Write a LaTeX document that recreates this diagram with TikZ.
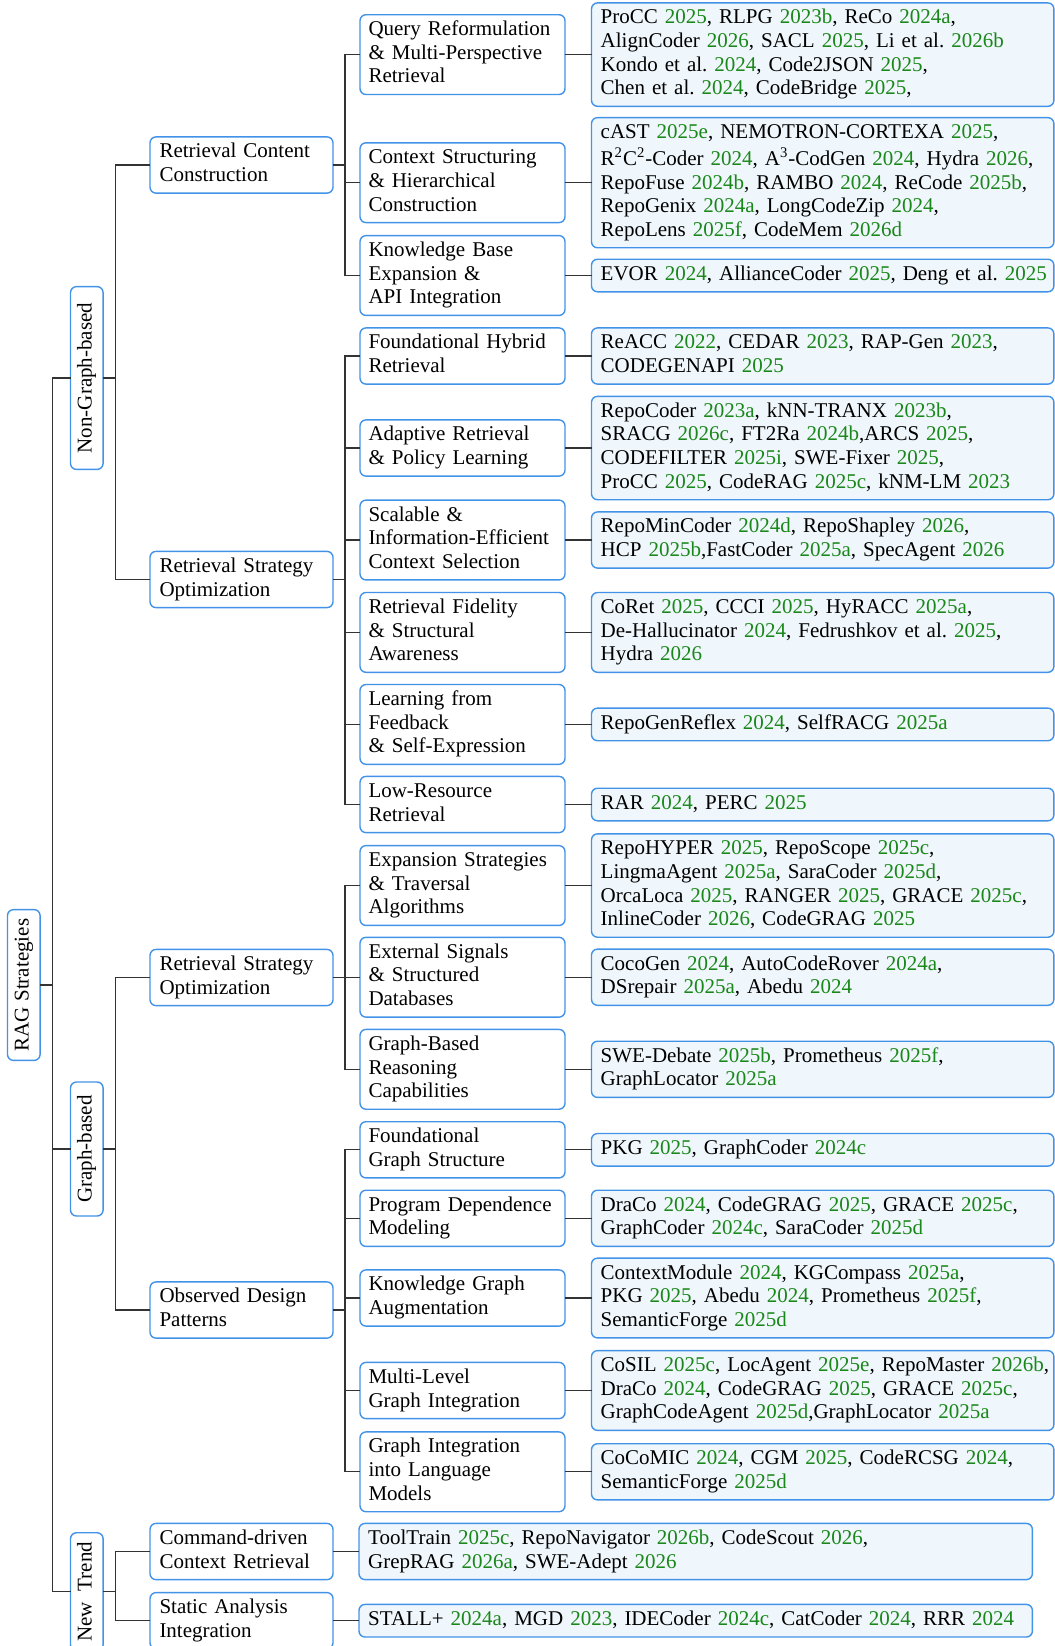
\documentclass[tikz,border=0pt]{standalone}
\usepackage{fontspec}
\setmainfont{Liberation Serif}
\usetikzlibrary{
  positioning,
}
\definecolor{boxblue}{RGB}{66,146,232}
\definecolor{boxfill}{RGB}{240,247,252}
\definecolor{yrgreen}{RGB}{25,135,25}
\newcommand{\yr}[1]{\textcolor{yrgreen}{#1}}

\begin{document}
\frenchspacing
\begin{tikzpicture}[
    x = 0.5pt,
    y = -0.5pt,
    node distance=13.25pt,
    n/.style={
      draw=boxblue, line width=0.7pt, rounded corners=3pt,
      font=\fontsize{10.5}{11.8}\selectfont, inner ysep=2.25pt,
      outer sep=0pt, execute at begin node={\strut},
      execute at end node={\strut},
    },
    v/.style={n, rotate=90, inner xsep=4.6pt},
    m/.style={n, anchor=west, text width=86pt, align=left, inner xsep=2.75pt,
      execute at begin node={\leftskip=2pt\relax}},
    s/.style={n, anchor=west, text width=97pt, align=left, inner xsep=2.75pt,
      execute at begin node={\leftskip=1.5pt\relax}},
    p/.style={n, fill=boxfill, text width=240pt, align=left, inner xsep=-4.4pt,
      execute at begin node={\leftskip=9pt\relax}},
    w/.style={p, text width=345.5pt},
    e/.style={draw=black!80, line width=0.6pt},]
  \useasboundingbox (0,0) rectangle (1055,1646);
  %% root and branches
  \node[v, minimum width=75pt](Root) at (23.8,985) {RAG Strategies};
  \node[v, minimum width=91.4pt](NonGraph) at (86.8,378) {Non-Graph-based};
  \node[v, minimum width=67pt](Graph) at (86.8,1149) {Graph-based};
  \node[v](Trend) at (86.8,1591.7) {New\enspace Trend};
  %%
  \node[m](Content) at (150,165) {Retrieval Content\\Construction};
  \node[m](Strategy) at (150,579.5) {Retrieval Strategy\\Optimization};
  \node[m](GStrategy) at (150,977.5) {Retrieval Strategy\\Optimization};
  \node[m](Design) at (150,1310) {Observed Design\\Patterns};
  \node[m](Command) at (150,1551.5) {Command-driven\\Context Retrieval};
  \node[m](Static) at (150,1620.7) {Static Analysis\\Integration};
  %% non-graph-based
  \node[s](Query) at (360,54.6)
  {Query Reformulation\\\& Multi-Perspective\\Retrieval};
  \node[s](Context) at (360,182.7)
  {Context Structuring\\\& Hierarchical\\Construction};
  \node[s](Knowledge) at (360,275.5)
  {Knowledge Base\\Expansion \&\\API Integration};
  \node[s](Hybrid) at (360,356) {Foundational Hybrid\\Retrieval};
  \node[s](Adaptive) at (360,448) {Adaptive Retrieval\\\& Policy Learning};
  \node[s](Scalable) at (360,540)
  {Scalable \&\\Information-Efficient\\Context Selection};
  \node[s](Fidelity) at (360,632.4)
  {Retrieval Fidelity\\\& Structural\\Awareness};
  \node[s](Feedback) at (360,724.4)
  {Learning from\\Feedback\\\& Self-Expression};
  \node[s](LowRes) at (360,804.5) {Low-Resource\\Retrieval};
  %% graph-based
  \node[s](Expansion) at (360,885.5)
  {Expansion Strategies\\\& Traversal\\Algorithms};
  \node[s](External) at (360,977.2)
  {External Signals\\\& Structured\\Databases};
  \node[s](Reasoning) at (360,1069.3)
  {Graph-Based\\Reasoning\\Capabilities};
  \node[s](GStructure) at (360,1149.8) {Foundational\\Graph Structure};
  \node[s](Dependence) at (360,1218.3) {Program Dependence\\Modeling};
  \node[s](KGraph) at (360,1298) {Knowledge Graph\\Augmentation};
  \node[s](MultiLevel) at (360,1390.5) {Multi-Level\\Graph Integration};
  \node[s](GIntegration) at (360,1471.8)
  {Graph Integration\\into Language\\Models};
  %% papers
  \node[p,right=of Query](QueryP)
  {ProCC \yr{2025}, RLPG \yr{2023b}, ReCo \yr{2024a},\\
    AlignCoder \yr{2026}, SACL \yr{2025}, Li et al. \yr{2026b}\\
    Kondo et al. \yr{2024}, Code2JSON \yr{2025},\\
    Chen et al. \yr{2024}, CodeBridge \yr{2025},};
  \node[p,right=of Context](ContextP)
  {cAST \yr{2025e}, NEMOTRON-CORTEXA \yr{2025},\\
    R\textsuperscript{2}C\textsuperscript{2}-Coder \yr{2024},
    A\textsuperscript{3}-CodGen \yr{2024}, Hydra \yr{2026},\\
    RepoFuse \yr{2024b}, RAMBO \yr{2024}, ReCode \yr{2025b},\\
    RepoGenix \yr{2024a}, LongCodeZip \yr{2024},\\
    RepoLens \yr{2025f}, CodeMem \yr{2026d}};
  \node[p,right=of Knowledge](KnowledgeP)
  {EVOR \yr{2024}, AllianceCoder \yr{2025}, Deng et al. \yr{2025}};
  \node[p,right=of Hybrid](HybridP)
  {ReACC \yr{2022}, CEDAR \yr{2023}, RAP-Gen \yr{2023},\\
    CODEGENAPI \yr{2025}};
  \node[p,right=of Adaptive](AdaptiveP)
  {RepoCoder \yr{2023a}, kNN-TRANX \yr{2023b},\\
    SRACG \yr{2026c}, FT2Ra \yr{2024b},ARCS \yr{2025},\\
    CODEFILTER \yr{2025i}, SWE-Fixer \yr{2025},\\
    ProCC \yr{2025}, CodeRAG \yr{2025c}, kNM-LM \yr{2023}};
  \node[p,right=of Scalable](ScalableP)
  {RepoMinCoder \yr{2024d}, RepoShapley \yr{2026},\\
    HCP \yr{2025b},FastCoder \yr{2025a}, SpecAgent \yr{2026}};
  \node[p,right=of Fidelity](FidelityP)
  {CoRet \yr{2025}, CCCI \yr{2025}, HyRACC \yr{2025a},\\
    De-Hallucinator \yr{2024}, Fedrushkov et al. \yr{2025},\\
    Hydra \yr{2026}};
  \node[p,right=of Feedback](FeedbackP)
  {RepoGenReflex \yr{2024}, SelfRACG \yr{2025a}};
  \node[p,right=of LowRes](LowResP) {RAR \yr{2024}, PERC \yr{2025}};
  \node[p,right=of Expansion](ExpansionP)
  {RepoHYPER \yr{2025}, RepoScope \yr{2025c},\\
    LingmaAgent \yr{2025a}, SaraCoder \yr{2025d},\\
    OrcaLoca \yr{2025}, RANGER \yr{2025}, GRACE \yr{2025c},\\
    InlineCoder \yr{2026}, CodeGRAG \yr{2025}};
  \node[p,right=of External](ExternalP)
  {CocoGen \yr{2024}, AutoCodeRover \yr{2024a},\\
    DSrepair \yr{2025a}, Abedu \yr{2024}};
  \node[p,right=of Reasoning](ReasoningP)
  {SWE-Debate \yr{2025b}, Prometheus \yr{2025f},\\
    GraphLocator \yr{2025a}};
  \node[p,right=of GStructure](GStructureP)
  {PKG \yr{2025}, GraphCoder \yr{2024c}};
  \node[p,right=of Dependence](DependenceP)
  {DraCo \yr{2024}, CodeGRAG \yr{2025}, GRACE \yr{2025c},\\
    GraphCoder \yr{2024c}, SaraCoder \yr{2025d}};
  \node[p,right=of KGraph](KGraphP)
  {ContextModule \yr{2024}, KGCompass \yr{2025a},\\
    PKG \yr{2025}, Abedu \yr{2024}, Prometheus \yr{2025f},\\
    SemanticForge \yr{2025d}};
  \node[p,right=of MultiLevel](MultiLevelP)
  {CoSIL \yr{2025c}, LocAgent \yr{2025e}, RepoMaster \yr{2026b},\\
    DraCo \yr{2024}, CodeGRAG \yr{2025}, GRACE \yr{2025c},\\
    GraphCodeAgent \yr{2025d},GraphLocator \yr{2025a}};
  \node[p,right=of GIntegration](GIntegrationP)
  {CoCoMIC \yr{2024}, CGM \yr{2025}, CodeRCSG \yr{2024},\\
    SemanticForge \yr{2025d}};
  %% new trend
  \node[w,right=13pt of Command](CommandP)
  {ToolTrain \yr{2025c}, RepoNavigator \yr{2026b}, CodeScout \yr{2026},\\
    GrepRAG \yr{2026a}, SWE-Adept \yr{2026}};
  \node[w,right=13pt of Static](StaticP)
  {STALL+ \yr{2024a}, MGD \yr{2023}, IDECoder \yr{2024c}, CatCoder \yr{2024},
    RRR \yr{2024}};
  %% edges (rotated boxes: south is on the right, north on the left)
  \foreach \a/\b in {Root.south/NonGraph.north, Root.south/Graph.north,
    Root.south/Trend.north,
    NonGraph.south/Content.west, NonGraph.south/Strategy.west,
    Graph.south/GStrategy.west, Graph.south/Design.west,
    Trend.south/Command.west, Trend.south/Static.west,
    Content.east/Query.west, Content.east/Context.west,
    Content.east/Knowledge.west,
    Strategy.east/Hybrid.west, Strategy.east/Adaptive.west,
    Strategy.east/Scalable.west, Strategy.east/Fidelity.west,
    Strategy.east/Feedback.west, Strategy.east/LowRes.west,
    GStrategy.east/Expansion.west, GStrategy.east/External.west,
    GStrategy.east/Reasoning.west,
    Design.east/GStructure.west, Design.east/Dependence.west,
    Design.east/KGraph.west, Design.east/MultiLevel.west,
    Design.east/GIntegration.west}
    \draw[e] (\a) -- ++(12,0) |- (\b);
  \foreach \a in {Query, Context, Knowledge, Hybrid, Adaptive, Scalable,
    Fidelity, Feedback, LowRes, Expansion, External, Reasoning,
    GStructure, Dependence, KGraph, MultiLevel, GIntegration,
    Command, Static}
    \draw[e] (\a.east) -- ++(12,0) |- (\a P.west);
\end{tikzpicture}
\end{document}
